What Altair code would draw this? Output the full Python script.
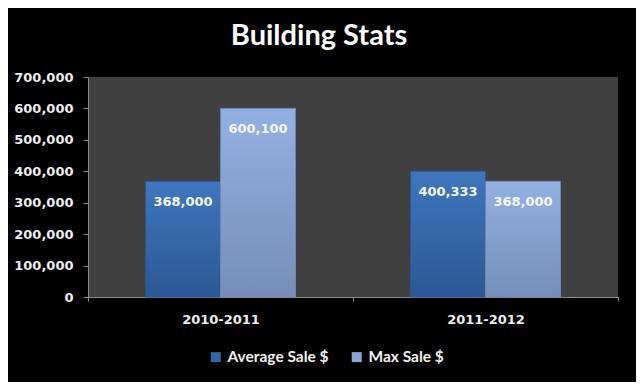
import altair as alt
import pandas as pd

categories = ["2010-2011", "2010-2011", "2011-2012", "2011-2012"]
series = ["Average Sale $", "Max Sale $", "Average Sale $", "Max Sale $"]
values = [368000, 600100, 400333, 368000]
series_order = ["Average Sale $", "Max Sale $"]
y_ticks = [0, 100000, 200000, 300000, 400000, 500000, 600000, 700000]

df = pd.DataFrame({"period": categories, "series": series, "value": values})

x_enc = alt.X("period:N", title=None,
              scale=alt.Scale(paddingInner=0, paddingOuter=0),
              axis=alt.Axis(labelAngle=0, labelFont="DejaVu Sans", labelFontWeight="bold",
                            labelFontSize=13, labelColor="#eeeeee", labelPadding=12,
                            domainColor="#8a8a8a", tickColor="#8a8a8a", tickSize=4,
                            tickBand="extent"))
xo_enc = alt.XOffset("series:N", scale=alt.Scale(domain=series_order, paddingOuter=0.767, paddingInner=0))
y_enc = alt.Y("value:Q", title=None,
              scale=alt.Scale(domain=[0, 700000], nice=False),
              axis=alt.Axis(values=y_ticks, format=",d", grid=False,
                            labelFont="DejaVu Sans", labelFontWeight="bold", labelFontSize=13,
                            labelColor="#eeeeee", labelPadding=10,
                            domainColor="#8a8a8a", tickColor="#8a8a8a", tickSize=5))

base = alt.Chart(df)

solid = base.mark_bar(size=75).encode(
    x=x_enc, xOffset=xo_enc, y=y_enc,
    color=alt.Color("series:N", title=None,
                    scale=alt.Scale(domain=series_order, range=["#3567a8", "#8aa3d1"]),
                    legend=alt.Legend(orient="none", legendX=120, legendY=272, direction="horizontal",
                                      symbolType="square", symbolSize=100, symbolStrokeWidth=0,
                                      labelColor="#f2f2f2", labelFont="Lato", labelFontWeight="bold",
                                      labelFontSize=15.5, columnPadding=20, labelOffset=4)),
)

grad_avg = alt.Gradient(gradient="linear", x1=0, x2=0, y1=0, y2=1,
                        stops=[alt.GradientStop(color="#3f76bd", offset=0),
                               alt.GradientStop(color="#2b5896", offset=1)])
grad_max = alt.Gradient(gradient="linear", x1=0, x2=0, y1=0, y2=1,
                        stops=[alt.GradientStop(color="#94b0e2", offset=0),
                               alt.GradientStop(color="#768eb9", offset=1)])

avg_layer = base.transform_filter(alt.datum.series == "Average Sale $").mark_bar(
    size=75, fill=grad_avg, stroke="#2a5590", strokeWidth=1).encode(x=x_enc, xOffset=xo_enc, y=y_enc)
max_layer = base.transform_filter(alt.datum.series == "Max Sale $").mark_bar(
    size=75, fill=grad_max, stroke="#6f86b0", strokeWidth=1).encode(x=x_enc, xOffset=xo_enc, y=y_enc)

labels = base.mark_text(baseline="middle", dy=21, font="DejaVu Sans", fontWeight="bold",
                        fontSize=13, color="#f4f7fc").encode(
    x=x_enc, xOffset=xo_enc, y=y_enc, text=alt.Text("value:Q", format=",d"))

chart = alt.layer(solid, avg_layer, max_layer, labels).properties(
    width=530, height=220,
    background="#000000",
    padding={"left": 80, "top": 69, "right": 18, "bottom": 85},
    autosize=alt.AutoSizeParams(type="none"),
    title=alt.TitleParams("Building Stats", font="Lato", fontWeight="bold", fontSize=29,
                          color="#ffffff", anchor="middle", frame="group", dx=-34, offset=20),
).configure_view(fill="#404040", stroke=None)

chart.save("out.html", embed_options={"renderer": "svg", "actions": False})
